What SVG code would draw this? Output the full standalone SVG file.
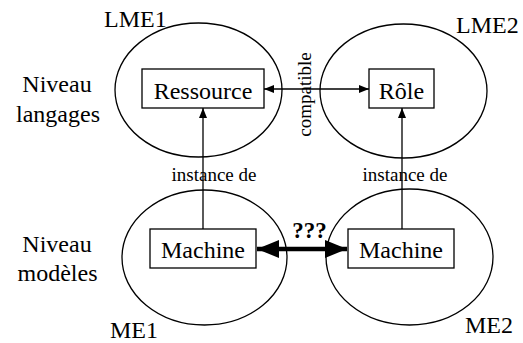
<svg xmlns="http://www.w3.org/2000/svg" width="523" height="343" viewBox="0 0 523 343">
<style>
  text { font-family: "Liberation Serif", "Times New Roman", serif; fill: #000; }
  .big { font-size: 24px; }
  .node { font-size: 24px; text-anchor: middle; }
  .lbl { font-size: 19px; text-anchor: middle; }
  .q { font-size: 23px; font-weight: bold; text-anchor: middle; }
  ellipse { fill: none; stroke: #000; stroke-width: 1.3; }
  rect { fill: #fff; stroke: #000; stroke-width: 1.3; }
  .thin { stroke: #000; stroke-width: 1.3; fill: none; }
  .thick { stroke: #000; stroke-width: 4.5; fill: none; }
</style>
<defs>
  <marker id="ah" markerUnits="userSpaceOnUse" markerWidth="10" markerHeight="10" viewBox="0 0 10 10" refX="10" refY="5" orient="auto-start-reverse">
    <path d="M0,1 L10,5 L0,9 Z" fill="#000"/>
  </marker>
  <marker id="bh" markerUnits="userSpaceOnUse" markerWidth="22" markerHeight="18" viewBox="0 0 22 18" refX="22" refY="9" orient="auto-start-reverse">
    <path d="M0,0 L22,9 L0,18 Z" fill="#000"/>
  </marker>
</defs>

<text class="big" x="104" y="27">LME1</text>
<text class="big" x="456" y="33">LME2</text>
<text class="big" x="110" y="338">ME1</text>
<text class="big" x="465" y="333">ME2</text>
<text class="big" x="57" y="92" text-anchor="middle">Niveau</text>
<text class="big" x="58" y="122" text-anchor="middle">langages</text>
<text class="big" x="57" y="252" text-anchor="middle">Niveau</text>
<text class="big" x="57.5" y="281" text-anchor="middle">modèles</text>

<g id="LME1"><ellipse cx="198.5" cy="90" rx="83.5" ry="67"/></g>
<g id="LME2"><ellipse cx="403.5" cy="91" rx="83.5" ry="67"/></g>
<g id="ME1"><ellipse cx="204.5" cy="257.5" rx="82.5" ry="67.5"/></g>
<g id="ME2"><ellipse cx="409.5" cy="257" rx="83.5" ry="68"/></g>

<g id="connectors">
  <line class="thin" x1="264" y1="89" x2="369" y2="89" marker-start="url(#ah)" marker-end="url(#ah)"/>
  <line class="thin" x1="203" y1="229" x2="203" y2="108" marker-end="url(#ah)"/>
  <line class="thin" x1="402" y1="229" x2="402" y2="108" marker-end="url(#ah)"/>
  <line class="thick" x1="257" y1="249" x2="347" y2="249" marker-start="url(#bh)" marker-end="url(#bh)"/>
  <text class="lbl" transform="translate(311,94.5) rotate(-90)">compatible</text>
  <text class="lbl" x="214" y="181">instance de</text>
  <text class="lbl" x="405" y="181">instance de</text>
  <text class="q" x="309.5" y="238">???</text>
</g>

<g id="Ressource"><rect x="142" y="69" width="122" height="39"/><text class="node" x="203" y="99">Ressource</text></g>
<g id="Role"><rect x="369" y="69" width="65" height="39"/><text class="node" x="401.5" y="99">Rôle</text></g>
<g id="Machine1"><rect x="150" y="229" width="106" height="39"/><text class="node" x="203" y="258">Machine</text></g>
<g id="Machine2"><rect x="348" y="229" width="106" height="39"/><text class="node" x="401" y="258">Machine</text></g>
</svg>
